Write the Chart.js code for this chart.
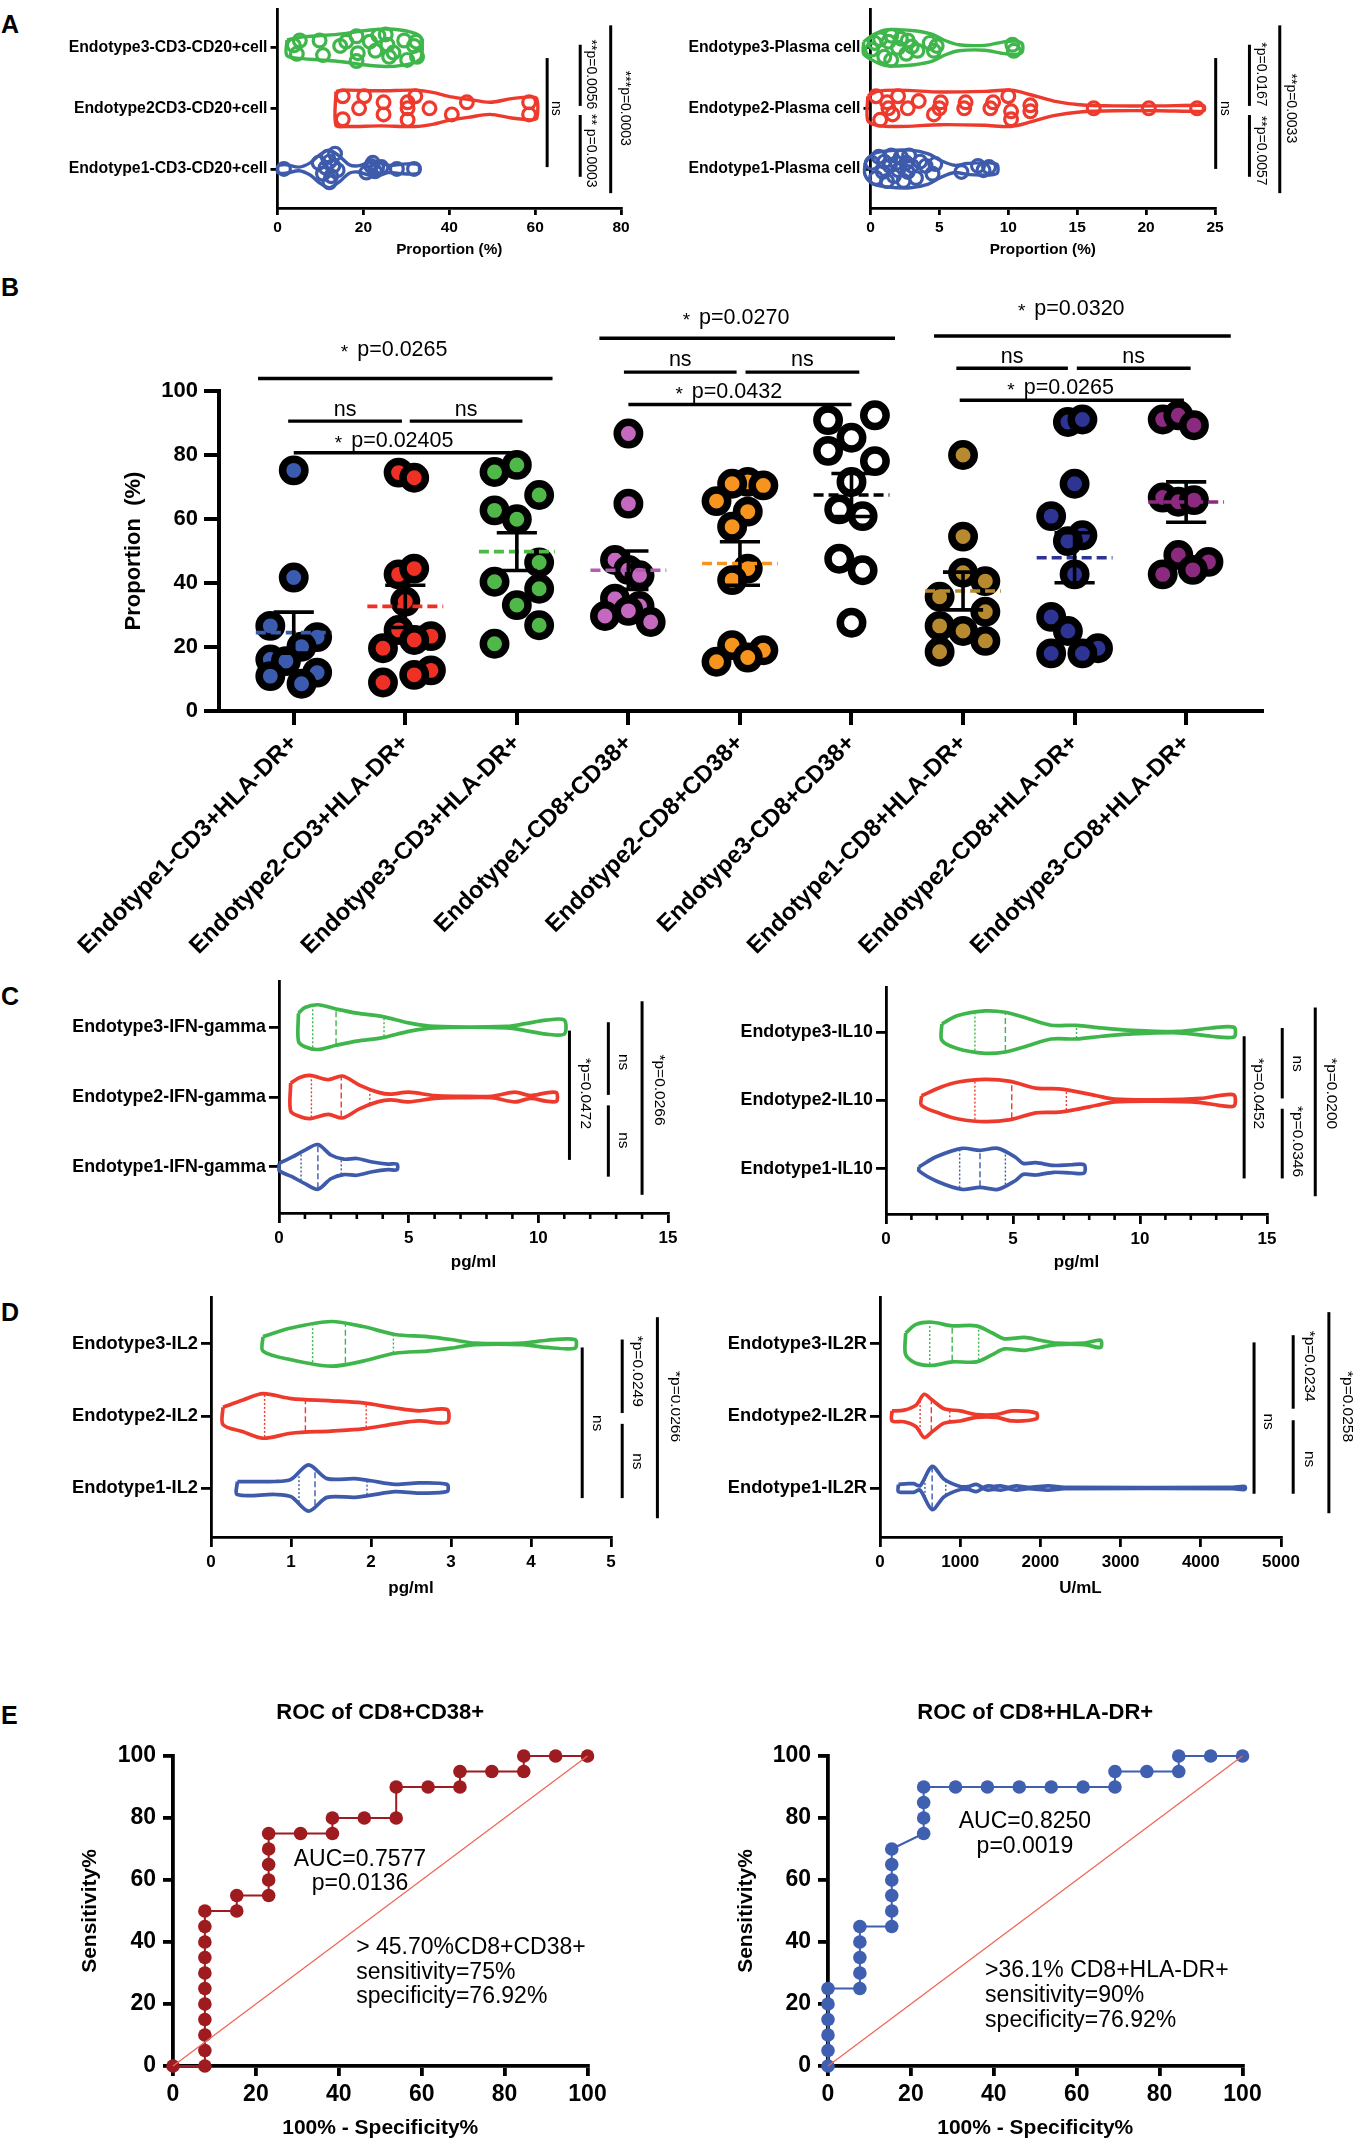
<!DOCTYPE html>
<html>
<head>
<meta charset="utf-8">
<title>Endotype panels</title>
<script src="https://cdn.jsdelivr.net/npm/chart.js@4.4.1/dist/chart.umd.min.js"></script>
<style>
  body { margin: 0; background: #fff; }
  #page { position: relative; width: 1362px; height: 2147px; overflow: hidden; background: #fff;
          font-family: 'Liberation Sans', Arial, Helvetica, sans-serif; }
  #page canvas { position: absolute; }
  .tag { position: absolute; font-size: 25px; line-height: 25px; font-weight: bold; }
</style>
</head>
<body>
<div id="page">
  <div class="tag" style="left:1px;top:12px">A</div>
  <div class="tag" style="left:1px;top:275px">B</div>
  <div class="tag" style="left:1px;top:984px">C</div>
  <div class="tag" style="left:1px;top:1300px">D</div>
  <div class="tag" style="left:1px;top:1703px">E</div>
  <canvas id="cA1"></canvas><canvas id="cA2"></canvas>
  <canvas id="cB"></canvas>
  <canvas id="cC1"></canvas><canvas id="cC2"></canvas>
  <canvas id="cD1"></canvas><canvas id="cD2"></canvas>
  <canvas id="cE1"></canvas><canvas id="cE2"></canvas>
</div>
<script>
// ---------------- A: CD3-CD20+ cells ----------------
const cd20Labels = ['Endotype1-CD3-CD20+cell', 'Endotype2CD3-CD20+cell', 'Endotype3-CD3-CD20+cell'];
const cd20E1 = [1.5, 9.6, 10.6, 11.2, 11.7, 12.1, 12.1, 12.5, 13.0, 13.4, 14.0, 20.7, 21.8, 22.2, 22.7, 23.2, 24.2, 27.8, 31.8];
const cd20E1Jit = [0, 0.1, -0.08, 0.02, 0.2, -0.22, 0.12, -0.12, 0.05, 0.25, -0.02, -0.06, 0.05, 0.1, -0.04, 0.02, 0.03, 0, 0];
const cd20E2 = [15.2, 15.2, 20.2, 19.0, 24.7, 24.7, 30.3, 30.3, 30.3, 32.1, 35.4, 40.6, 44.1, 58.6, 58.6];
const cd20E2Jit = [0.2, -0.18, 0.2, 0, 0.1, -0.1, 0, -0.19, 0.1, 0.2, 0, -0.1, 0.1, 0.1, -0.1];
const cd20E3 = [3.8, 4.5, 5.2, 9.8, 10.6, 14.6, 16.0, 18.4, 18.7, 18.4, 21.5, 22.8, 23.5, 25.2, 25.6, 26.0, 27.0, 29.5, 30.2, 31.8, 32.3, 32.5];
const cd20E3Jit = [0.04, -0.1, 0.12, 0.12, -0.12, 0.03, 0.1, 0.19, -0.09, -0.22, 0.1, -0.05, 0.2, 0.22, 0.05, -0.15, -0.08, 0.12, -0.2, 0.03, 0.1, -0.15];
// violin outlines: position along the value axis and half width (in category units)
const cd20E1ShapeX = [0, 2, 5, 7.6, 9.6, 12.1, 14.6, 16.7, 18.7, 21.2, 23.2, 25.8, 29.3, 32.8];
const cd20E1ShapeW = [0.06, 0.07, 0.03, 0.1, 0.22, 0.31, 0.2, 0.07, 0.05, 0.1, 0.12, 0.06, 0.08, 0.07];
const cd20E2ShapeX = [13.6, 16, 24, 32, 36.4, 40.4, 44.4, 49.5, 54.5, 59, 60.4];
const cd20E2ShapeW = [0.28, 0.3, 0.29, 0.3, 0.26, 0.19, 0.15, 0.1, 0.16, 0.19, 0.16];
const cd20E3ShapeX = [2.2, 6, 10, 15, 20, 25, 29, 32.3, 33.5];
const cd20E3ShapeW = [0.13, 0.18, 0.2, 0.23, 0.28, 0.31, 0.29, 0.23, 0.15];

// ---------------- A: plasma cells ----------------
const plasLabels = ['Endotype1-Plasma cell', 'Endotype2-Plasma cell', 'Endotype3-Plasma cell'];
const plasE1 = [0.1, 0.4, 0.6, 0.9, 1.0, 1.2, 1.4, 1.5, 1.7, 1.9, 2.0, 2.2, 2.4, 2.6, 2.7, 2.8, 3.0, 3.3, 3.6, 4.0, 4.5, 4.7, 6.6, 7.8, 8.2, 8.6];
const plasE1Jit = [0.1, -0.15, 0.2, -0.05, 0.12, -0.2, 0.05, 0.22, -0.12, 0.1, -0.02, 0.2, -0.2, 0.1, -0.05, 0.22, 0.05, -0.15, 0.12, 0.05, -0.08, 0.08, -0.05, 0.05, -0.02, 0.03];
const plasE2 = [0.4, 0.7, 1.2, 1.3, 1.6, 2.0, 2.7, 3.5, 4.6, 5.0, 5.1, 6.8, 6.9, 8.7, 8.9, 10.0, 10.2, 10.2, 11.6, 11.6, 16.2, 20.2, 23.7];
const plasE2Jit = [0.2, -0.19, 0.1, 0, -0.1, 0.2, 0, 0.12, -0.1, 0, 0.1, 0, 0.1, 0, 0.1, 0.2, -0.05, -0.18, 0.05, -0.05, 0, 0, 0];
const plasE3 = [0.1, 0.3, 0.7, 1.0, 1.3, 1.5, 1.5, 2.0, 2.2, 2.6, 2.7, 3.0, 3.4, 4.3, 4.6, 4.8, 10.3, 10.4];
const plasE3Jit = [-0.03, 0.08, 0.14, -0.15, 0.1, 0.2, -0.2, 0, 0.15, -0.1, 0.12, 0.02, -0.05, 0.08, -0.05, 0.03, 0.05, -0.05];
const plasE1ShapeX = [-0.4, 0.2, 1.3, 2.9, 4.2, 5.1, 6.1, 7.0, 7.9, 8.7, 9.2];
const plasE1ShapeW = [0.1, 0.25, 0.3, 0.31, 0.25, 0.14, 0.06, 0.09, 0.1, 0.1, 0.07];
const plasE2ShapeX = [-0.2, 0.5, 2, 5.1, 8.3, 10.2, 11.7, 13.3, 15.2, 17.7, 20.9, 23.7, 24.2];
const plasE2ShapeW = [0.2, 0.28, 0.3, 0.27, 0.28, 0.3, 0.22, 0.12, 0.06, 0.04, 0.04, 0.05, 0.04];
const plasE3ShapeX = [-0.5, 0.1, 1.0, 2.0, 3.2, 4.5, 5.4, 6.4, 8.3, 9.5, 10.5, 11.0];
const plasE3ShapeW = [0.1, 0.2, 0.29, 0.3, 0.28, 0.22, 0.12, 0.05, 0.04, 0.09, 0.11, 0.07];

// ---------------- B: activated T cells (%) ----------------
const bLabels = ['Endotype1-CD3+HLA-DR+', 'Endotype2-CD3+HLA-DR+', 'Endotype3-CD3+HLA-DR+',
                 'Endotype1-CD8+CD38+', 'Endotype2-CD8+CD38+', 'Endotype3-CD8+CD38+',
                 'Endotype1-CD8+HLA-DR+', 'Endotype2-CD8+HLA-DR+', 'Endotype3-CD8+HLA-DR+'];
const bValues = [
  [75.2, 41.7, 26.6, 23.1, 20.1, 16.1, 15.6, 12.0, 10.9, 8.5],
  [74.5, 72.9, 42.7, 44.5, 34.2, 25.3, 23.4, 22.2, 19.6, 12.7, 11.3, 8.9],
  [74.7, 76.9, 67.5, 62.7, 59.9, 46.4, 40.4, 38.2, 33.1, 26.8, 21.0],
  [86.7, 64.8, 47.2, 44.1, 42.4, 35.1, 32.8, 31.3, 29.7, 27.8],
  [71.6, 71.0, 70.5, 65.6, 62.3, 57.6, 44.5, 40.9, 20.6, 19.0, 16.7, 15.4],
  [92.4, 90.9, 85.4, 81.3, 78.1, 71.6, 63.0, 60.9, 47.6, 44.0, 27.6],
  [80.0, 54.5, 43.2, 40.6, 35.7, 31.0, 26.6, 25.0, 21.9, 18.5],
  [90.3, 91.1, 71.0, 60.9, 54.9, 53.1, 42.7, 29.4, 25.0, 19.6, 18.0, 18.0],
  [91.1, 92.4, 89.3, 66.7, 65.4, 65.9, 48.75, 46.6, 42.7, 44.1]
];
const bJitter = [
  [0, 0, -0.21, 0.21, 0.07, -0.21, -0.07, 0.21, -0.21, 0.07],
  [-0.06, 0.08, -0.06, 0.08, 0, -0.06, 0.23, 0.08, -0.2, 0.23, 0.08, -0.2],
  [-0.2, 0, 0.2, -0.2, 0, 0.2, -0.2, 0.2, 0, 0.2, -0.2],
  [0, 0, -0.12, 0, 0.1, -0.12, 0.1, 0, -0.21, 0.2],
  [0.07, -0.07, 0.21, -0.21, 0.07, -0.07, 0.07, -0.07, -0.07, 0.21, 0.07, -0.21],
  [0.21, -0.21, 0, -0.21, 0.21, 0, -0.11, 0.1, -0.11, 0.1, 0],
  [0, 0, 0, 0.2, -0.21, 0.2, -0.21, 0, 0.2, -0.21],
  [-0.06, 0.07, 0, -0.21, 0.07, -0.06, 0, -0.21, -0.06, 0.21, -0.21, 0.07],
  [-0.21, -0.07, 0.07, -0.21, -0.07, 0.07, -0.07, 0.2, -0.21, 0.06]
];
const bMean = [24.5, 32.7, 49.8, 44.0, 46.1, 67.5, 37.5, 47.9, 65.3];
const bSem = [6.4, 6.6, 5.9, 6.0, 6.8, 6.7, 5.9, 7.8, 6.3];
const bTicks = [0, 20, 40, 60, 80, 100];

// ---------------- C: IFN-gamma and IL10 (pg/ml) ----------------
const ifnLabels = ['Endotype1-IFN-gamma', 'Endotype2-IFN-gamma', 'Endotype3-IFN-gamma'];
const ifnE1ShapeX = [0, 0.5, 1.0, 1.5, 2.0, 2.5, 3.0, 3.6, 4.2, 4.55];
const ifnE1ShapeW = [0.05, 0.14, 0.24, 0.32, 0.17, 0.11, 0.12, 0.07, 0.04, 0.04];
const ifnE2ShapeX = [0.45, 0.8, 1.2, 1.9, 2.45, 3.1, 3.8, 4.3, 5.0, 6.0, 7.0, 8.2, 9.1, 9.7, 10.3, 10.7];
const ifnE2ShapeW = [0.2, 0.28, 0.31, 0.25, 0.3, 0.17, 0.07, 0.04, 0.07, 0.02, 0.01, 0.01, 0.07, 0.02, 0.06, 0.06];
const ifnE3ShapeX = [0.75, 1.0, 1.5, 2.2, 3.0, 4.0, 5.0, 6.0, 8.8, 9.5, 10.3, 11.0];
const ifnE3ShapeW = [0.2, 0.28, 0.32, 0.26, 0.2, 0.15, 0.06, 0.01, 0.01, 0.05, 0.1, 0.1];
const ifnQuart = [[0.85, 1.5, 2.4], [1.25, 2.4, 3.5], [1.3, 2.2, 4.05]];

const il10Labels = ['Endotype1-IL10', 'Endotype2-IL10', 'Endotype3-IL10'];
const il10E1ShapeX = [1.3, 2.0, 3.0, 3.7, 4.4, 5.1, 5.4, 5.9, 6.6, 7.3, 7.8];
const il10E1ShapeW = [0.03, 0.18, 0.3, 0.27, 0.3, 0.17, 0.08, 0.09, 0.05, 0.06, 0.06];
const il10E2ShapeX = [1.4, 2.2, 2.85, 3.9, 4.9, 5.9, 6.8, 7.5, 8.3, 9.0, 10.7, 12.4, 13.1, 13.7];
const il10E2ShapeW = [0.07, 0.2, 0.27, 0.31, 0.28, 0.18, 0.17, 0.13, 0.07, 0.02, 0.01, 0.03, 0.07, 0.08];
const il10E3ShapeX = [2.2, 2.8, 3.9, 4.7, 5.4, 6.5, 7.5, 8.5, 9.5, 11.5, 12.8, 13.7];
const il10E3ShapeW = [0.12, 0.24, 0.31, 0.29, 0.22, 0.1, 0.1, 0.06, 0.03, 0.01, 0.06, 0.07];
const il10Quart = [[2.9, 3.7, 4.7], [3.5, 4.95, 7.1], [3.5, 4.7, 7.5]];

// ---------------- D: IL2 (pg/ml) and IL2R (U/mL) ----------------
const il2Labels = ['Endotype1-IL2', 'Endotype2-IL2', 'Endotype3-IL2'];
const il2E1ShapeX = [0.33, 0.8, 1.0, 1.22, 1.45, 1.8, 2.0, 2.3, 2.6, 2.95];
const il2E1ShapeW = [0.09, 0.09, 0.12, 0.32, 0.13, 0.13, 0.1, 0.05, 0.07, 0.05];
const il2E2ShapeX = [0.15, 0.4, 0.65, 1.0, 1.5, 1.9, 2.3, 2.6, 2.95];
const il2E2ShapeW = [0.12, 0.22, 0.31, 0.24, 0.21, 0.18, 0.11, 0.07, 0.09];
const il2E3ShapeX = [0.65, 1.0, 1.5, 1.9, 2.3, 2.7, 3.0, 3.3, 3.9, 4.2, 4.55];
const il2E3ShapeW = [0.1, 0.22, 0.31, 0.24, 0.13, 0.1, 0.06, 0.01, 0.01, 0.05, 0.06];
const il2Quart = [[1.1, 1.3, 1.95], [0.67, 1.18, 1.94], [1.27, 1.68, 2.28]];

const il2rLabels = ['Endotype1-IL2R', 'Endotype2-IL2R', 'Endotype3-IL2R'];
const il2rE1ShapeX = [230, 350, 420, 500, 650, 800, 1000, 1100, 1200, 1280, 1350, 1420, 1500, 1600, 1700, 1850, 2100, 2300, 4400, 4550];
const il2rE1ShapeW = [0.05, 0.06, 0.06, 0.03, 0.3, 0.12, 0.02, 0.02, 0.05, 0.01, 0.03, 0.02, 0.03, 0.01, 0.03, 0.01, 0.03, 0.01, 0.01, 0.02];
const il2rE2ShapeX = [150, 300, 450, 550, 650, 800, 1000, 1200, 1450, 1650, 1950];
const il2rE2ShapeW = [0.07, 0.08, 0.15, 0.3, 0.22, 0.1, 0.07, 0.02, 0.02, 0.07, 0.04];
const il2rE3ShapeX = [320, 450, 650, 900, 1200, 1400, 1550, 1800, 2000, 2200, 2550, 2750];
const il2rE3ShapeW = [0.15, 0.27, 0.3, 0.25, 0.25, 0.15, 0.07, 0.09, 0.05, 0.01, 0.01, 0.05];
const il2rQuart = [[560, 650, 820], [500, 640, 870], [620, 900, 1230]];

// ---------------- E: ROC curves ----------------
const rocCd38Fpr = [0, 7.69, 7.69, 7.69, 7.69, 7.69, 7.69, 7.69, 7.69, 7.69, 7.69, 7.69, 15.38, 15.38,
  23.08, 23.08, 23.08, 23.08, 23.08, 30.77, 38.46, 38.46, 46.15, 53.85, 53.85, 61.54, 69.23, 69.23,
  76.92, 84.62, 84.62, 92.31, 100];
const rocCd38Tpr = [0, 0, 5, 10, 15, 20, 25, 30, 35, 40, 45, 50, 50, 55,
  55, 60, 65, 70, 75, 75, 75, 80, 80, 80, 90, 90, 90, 95,
  95, 95, 100, 100, 100];
const rocHlaFpr = [0, 0, 0, 0, 0, 0, 7.69, 7.69, 7.69, 7.69, 7.69, 15.38, 15.38, 15.38, 15.38, 15.38, 15.38,
  23.08, 23.08, 23.08, 23.08, 30.77, 38.46, 46.15, 53.85, 61.54, 69.23, 69.23, 76.92, 84.62, 84.62, 92.31, 100];
const rocHlaTpr = [0, 5, 10, 15, 20, 25, 25, 30, 35, 40, 45, 45, 50, 55, 60, 65, 70,
  75, 80, 85, 90, 90, 90, 90, 90, 90, 90, 95, 95, 95, 100, 100, 100];

// ================= drawing =================
const FONT = "'Liberation Sans', Arial, Helvetica, sans-serif";
Chart.defaults.font.family = FONT;
Chart.defaults.color = '#000';
Chart.defaults.animation = false;
Chart.defaults.events = [];
Chart.defaults.plugins.legend.display = false;
Chart.defaults.plugins.tooltip.enabled = false;

const GREEN = '#3fb64b', RED = '#ee3a2c', BLUE = '#3e5bab';

function place(id, box) {
  const cv = document.getElementById(id);
  cv.style.left = box[0] + 'px';
  cv.style.top = box[1] + 'px';
  cv.width = box[2];
  cv.height = box[3];
  cv.style.width = box[2] + 'px';
  cv.style.height = box[3] + 'px';
  return cv;
}

// fixed axis sizes so the plot areas land where they are in the figure
const fixW = w => s => { s.width = w; s.paddingTop = 0; s.paddingBottom = 0; };
const fixH = h => s => { s.height = h; s.paddingLeft = 0; s.paddingRight = 0; };

function outline(xs, ws, c) {
  const top = xs.map((x, i) => ({x: x, y: c + ws[i]}));
  const bot = xs.map((x, i) => ({x: x, y: c - ws[i]})).reverse();
  return top.concat(bot, [top[0]]);
}

function halfAt(xs, ws, q) {
  for (let i = 0; i < xs.length - 1; i++) {
    if (q >= xs[i] && q <= xs[i + 1]) {
      const t = (q - xs[i]) / (xs[i + 1] - xs[i]);
      return ws[i] + t * (ws[i + 1] - ws[i]);
    }
  }
  return 0;
}

function vBrackets(list, size) {
  return {
    id: 'vbr',
    afterDraw(chart) {
      const {ctx, scales: {x, y}} = chart;
      ctx.save();
      ctx.strokeStyle = '#000';
      ctx.fillStyle = '#000';
      ctx.lineWidth = 3;
      list.forEach(b => {
        const px = x.getPixelForValue(b.x);
        ctx.beginPath();
        ctx.moveTo(px, y.getPixelForValue(b.y1));
        ctx.lineTo(px, y.getPixelForValue(b.y2));
        ctx.stroke();
        ctx.save();
        ctx.translate(x.getPixelForValue(b.tx), y.getPixelForValue(b.ty));
        ctx.rotate(Math.PI / 2);
        ctx.font = size + 'px ' + FONT;
        ctx.textAlign = 'center';
        ctx.textBaseline = 'middle';
        ctx.fillText(b.t, 0, 0);
        ctx.restore();
      });
      ctx.restore();
    }
  };
}

function minorTicks(step, every, len) {
  return {
    id: 'minor',
    afterDraw(chart) {
      const {ctx, scales: {x}, chartArea} = chart;
      ctx.save();
      ctx.strokeStyle = '#000';
      ctx.lineWidth = 2.6;
      for (let v = x.min; v <= x.max + 1e-9; v += step) {
        if (Math.abs(v / every - Math.round(v / every)) < 1e-6) continue;
        const px = x.getPixelForValue(v);
        ctx.beginPath();
        ctx.moveTo(px, chartArea.bottom);
        ctx.lineTo(px, chartArea.bottom + len);
        ctx.stroke();
      }
      ctx.restore();
    }
  };
}

function violinPanel(o) {
  const cv = place(o.id, o.box);
  const [bx, by, bw, bh] = o.box;
  const [L, T, R, B] = o.area;
  const ds = [];
  o.groups.forEach((g, i) => {
    const c = i + 1;
    ds.push({data: outline(g.sx, g.sw, c), showLine: true, borderColor: g.color, borderWidth: o.lw,
             borderJoinStyle: 'round', tension: 0.3, pointRadius: 0, clip: false, order: 2});
    (g.q || []).forEach((q, k) => {
      const h = Math.max(halfAt(g.sx, g.sw, q) - 0.015, 0.01);
      ds.push({data: [{x: q, y: c - h}, {x: q, y: c + h}], showLine: true, borderColor: g.color,
               borderWidth: 1.4, borderDash: k === 1 ? [6, 3] : [2, 2], pointRadius: 0, order: 1});
    });
    if (g.pts) {
      ds.push({data: g.pts.map((v, k) => ({x: v, y: c + g.jit[k]})), pointRadius: 6.4,
               pointBorderWidth: 3.2, pointBorderColor: g.color, pointBackgroundColor: 'rgba(255,255,255,0)',
               clip: false, order: 0});
    }
  });
  const plugins = [vBrackets(o.brackets, o.bFont)];
  if (o.minor) plugins.push(minorTicks(o.minor, o.xStep, 6));
  new Chart(cv, {
    type: 'scatter',
    data: {datasets: ds},
    options: {
      responsive: false,
      layout: {padding: {left: 0, top: T - by, right: bx + bw - R, bottom: 0}},
      scales: {
        x: {
          min: o.xMin, max: o.xMax, afterFit: fixH(by + bh - B),
          border: {color: '#000', width: o.aw},
          grid: {drawOnChartArea: false, color: '#000', lineWidth: o.aw, tickLength: o.tl},
          ticks: {stepSize: o.xStep, padding: o.tp, font: {size: o.tf, weight: 'bold'}, callback: v => String(v)},
          title: {display: true, text: o.xTitle, font: {size: o.titleF, weight: 'bold'},
                  padding: {top: 0, bottom: (by + bh) - o.titleY - o.titleF * 0.6}}
        },
        y: {
          min: o.yMin, max: o.yMax, afterFit: fixW(L - bx),
          afterBuildTicks: ax => { ax.ticks = o.labels.map((_, i) => ({value: i + 1})); },
          border: {color: '#000', width: o.aw},
          grid: {drawOnChartArea: false, color: '#000', lineWidth: o.aw, tickLength: o.tl},
          ticks: {padding: 3, font: {size: o.lf, weight: 'bold'}, callback: v => o.labels[Math.round(v) - 1]}
        }
      }
    },
    plugins: plugins
  });
}

// ---------- A ----------
violinPanel({
  id: 'cA1', box: [0, 0, 680, 270], area: [277.5, 5, 621, 208],
  xMin: 0, xMax: 80, xStep: 20, yMin: 0.355, yMax: 3.63, xTitle: 'Proportion (%)', titleY: 250,
  labels: cd20Labels, lw: 3.4, aw: 2.8, tl: 7, tp: 3, tf: 15.5, lf: 15.8, titleF: 15.3, bFont: 14,
  groups: [
    {color: BLUE, sx: cd20E1ShapeX, sw: cd20E1ShapeW, pts: cd20E1, jit: cd20E1Jit},
    {color: RED, sx: cd20E2ShapeX, sw: cd20E2ShapeW, pts: cd20E2, jit: cd20E2Jit},
    {color: GREEN, sx: cd20E3ShapeX, sw: cd20E3ShapeW, pts: cd20E3, jit: cd20E3Jit}
  ],
  brackets: [
    {x: 62.8, y1: 2.83, y2: 1.03, t: 'ns', tx: 64.9, ty: 2.0},
    {x: 70.5, y1: 3.05, y2: 2.04, t: '**p=0.0056', tx: 72.9, ty: 2.56},
    {x: 70.5, y1: 1.89, y2: 0.87, t: '** p=0.0003', tx: 72.9, ty: 1.3},
    {x: 77.6, y1: 3.37, y2: 0.6, t: '***p=0.0003', tx: 80.8, ty: 2.0}
  ]
});
violinPanel({
  id: 'cA2', box: [680, 0, 682, 270], area: [870.5, 5, 1215, 208],
  xMin: 0, xMax: 25, xStep: 5, yMin: 0.355, yMax: 3.63, xTitle: 'Proportion (%)', titleY: 250,
  labels: plasLabels, lw: 3.4, aw: 2.8, tl: 7, tp: 3, tf: 15.5, lf: 15.8, titleF: 15.3, bFont: 14,
  groups: [
    {color: BLUE, sx: plasE1ShapeX, sw: plasE1ShapeW, pts: plasE1, jit: plasE1Jit},
    {color: RED, sx: plasE2ShapeX, sw: plasE2ShapeW, pts: plasE2, jit: plasE2Jit},
    {color: GREEN, sx: plasE3ShapeX, sw: plasE3ShapeW, pts: plasE3, jit: plasE3Jit}
  ],
  brackets: [
    {x: 25.05, y1: 2.83, y2: 1.0, t: 'ns', tx: 25.7, ty: 2.0},
    {x: 27.5, y1: 3.05, y2: 2.04, t: '*p=0.0167', tx: 28.3, ty: 2.56},
    {x: 27.5, y1: 1.89, y2: 0.87, t: '**p=0.0057', tx: 28.3, ty: 1.3},
    {x: 29.7, y1: 3.37, y2: 0.6, t: '**p=0.0033', tx: 30.5, ty: 2.0}
  ]
});

// ---------- C ----------
const cStyle = {lw: 3.7, aw: 2.8, tl: 10, tp: 5, tf: 17, lf: 17.8, titleF: 17, bFont: 15.5, minor: 1};
violinPanel(Object.assign({
  id: 'cC1', box: [0, 950, 680, 330], area: [279, 981, 668, 1213],
  xMin: 0, xMax: 15, xStep: 5, yMin: 0.34, yMax: 3.66, xTitle: 'pg/ml', titleY: 1262, labels: ifnLabels,
  groups: [
    {color: BLUE, sx: ifnE1ShapeX, sw: ifnE1ShapeW, q: ifnQuart[0]},
    {color: RED, sx: ifnE2ShapeX, sw: ifnE2ShapeW, q: ifnQuart[1]},
    {color: GREEN, sx: ifnE3ShapeX, sw: ifnE3ShapeW, q: ifnQuart[2]}
  ],
  brackets: [
    {x: 11.2, y1: 2.95, y2: 1.1, t: '*p=0.0472', tx: 11.8, ty: 2.05},
    {x: 12.7, y1: 3.07, y2: 2.03, t: 'ns', tx: 13.27, ty: 2.5},
    {x: 12.7, y1: 1.88, y2: 0.86, t: 'ns', tx: 13.27, ty: 1.38},
    {x: 14.0, y1: 3.37, y2: 0.6, t: '*p=0.0266', tx: 14.66, ty: 2.1}
  ]
}, cStyle));
violinPanel(Object.assign({
  id: 'cC2', box: [680, 950, 682, 330], area: [886, 987, 1267, 1214],
  xMin: 0, xMax: 15, xStep: 5, yMin: 0.34, yMax: 3.66, xTitle: 'pg/ml', titleY: 1262, labels: il10Labels,
  groups: [
    {color: BLUE, sx: il10E1ShapeX, sw: il10E1ShapeW, q: il10Quart[0]},
    {color: RED, sx: il10E2ShapeX, sw: il10E2ShapeW, q: il10Quart[1]},
    {color: GREEN, sx: il10E3ShapeX, sw: il10E3ShapeW, q: il10Quart[2]}
  ],
  brackets: [
    {x: 14.1, y1: 2.94, y2: 0.86, t: '*p=0.0452', tx: 14.65, ty: 2.1},
    {x: 15.6, y1: 3.06, y2: 2.03, t: 'ns', tx: 16.2, ty: 2.54},
    {x: 15.6, y1: 1.88, y2: 0.86, t: '*p=0.0346', tx: 16.2, ty: 1.4},
    {x: 16.9, y1: 3.36, y2: 0.6, t: '*p=0.0200', tx: 17.55, ty: 2.1}
  ]
}, cStyle));

// ---------- D ----------
const dStyle = {lw: 3.7, aw: 2.8, tl: 10, tp: 5, tf: 17, lf: 18.3, titleF: 17, bFont: 15.5};
violinPanel(Object.assign({
  id: 'cD1', box: [0, 1280, 680, 330], area: [211, 1297, 611, 1537],
  xMin: 0, xMax: 5, xStep: 1, yMin: 0.32, yMax: 3.65, xTitle: 'pg/ml', titleY: 1588, labels: il2Labels,
  groups: [
    {color: BLUE, sx: il2E1ShapeX, sw: il2E1ShapeW, q: il2Quart[0]},
    {color: RED, sx: il2E2ShapeX, sw: il2E2ShapeW, q: il2Quart[1]},
    {color: GREEN, sx: il2E3ShapeX, sw: il2E3ShapeW, q: il2Quart[2]}
  ],
  brackets: [
    {x: 4.64, y1: 2.95, y2: 0.86, t: 'ns', tx: 4.83, ty: 1.9},
    {x: 5.14, y1: 3.06, y2: 2.04, t: '*p=0.0249', tx: 5.33, ty: 2.62},
    {x: 5.14, y1: 1.89, y2: 0.86, t: 'ns', tx: 5.33, ty: 1.37},
    {x: 5.58, y1: 3.37, y2: 0.58, t: '*p=0.0266', tx: 5.8, ty: 2.13}
  ]
}, dStyle));
violinPanel(Object.assign({
  id: 'cD2', box: [680, 1280, 682, 330], area: [880, 1297, 1281, 1537],
  xMin: 0, xMax: 5000, xStep: 1000, yMin: 0.32, yMax: 3.65, xTitle: 'U/mL', titleY: 1588, labels: il2rLabels,
  groups: [
    {color: BLUE, sx: il2rE1ShapeX, sw: il2rE1ShapeW, q: il2rQuart[0]},
    {color: RED, sx: il2rE2ShapeX, sw: il2rE2ShapeW, q: il2rQuart[1]},
    {color: GREEN, sx: il2rE3ShapeX, sw: il2rE3ShapeW, q: il2rQuart[2]}
  ],
  brackets: [
    {x: 4664, y1: 3.02, y2: 0.92, t: 'ns', tx: 4837, ty: 1.92},
    {x: 5152, y1: 3.12, y2: 2.1, t: '*p=0.0234', tx: 5358, ty: 2.69},
    {x: 5152, y1: 1.94, y2: 0.92, t: 'ns', tx: 5358, ty: 1.4},
    {x: 5597, y1: 3.44, y2: 0.65, t: '*p=0.0258', tx: 5830, ty: 2.13}
  ]
}, dStyle));

// ---------- B ----------
const bFill = ['#3b5cae', '#ee3124', '#50b848', '#c468c0', '#f7941d', '#ffffff', '#b88a30', '#2e3494', '#8c2a80'];
const bLine = ['#3b5cae', '#ee3124', '#50b848', '#b35bb5', '#f7941d', '#000000', '#b88a30', '#2e3494', '#8c2a80'];
const bBrackets = [
  {x1: 0.68, x2: 3.32, y: 103.9, ty: 110.9, t: 'p=0.0265', star: true},
  {x1: 0.95, x2: 1.97, y: 90.6, ty: 92.2, t: 'ns'},
  {x1: 2.04, x2: 3.05, y: 90.6, ty: 92.2, t: 'ns'},
  {x1: 1.0, x2: 3.0, y: 80.7, ty: 82.6, t: 'p=0.02405', star: true},
  {x1: 3.74, x2: 6.39, y: 116.5, ty: 120.8, t: 'p=0.0270', star: true},
  {x1: 3.96, x2: 4.97, y: 105.9, ty: 107.7, t: 'ns'},
  {x1: 5.05, x2: 6.07, y: 105.9, ty: 107.7, t: 'ns'},
  {x1: 4.0, x2: 6.0, y: 95.8, ty: 97.9, t: 'p=0.0432', star: true},
  {x1: 6.74, x2: 9.4, y: 117.2, ty: 123.6, t: 'p=0.0320', star: true},
  {x1: 6.94, x2: 7.94, y: 107.1, ty: 108.8, t: 'ns'},
  {x1: 8.02, x2: 9.04, y: 107.1, ty: 108.8, t: 'ns'},
  {x1: 6.97, x2: 8.98, y: 97.1, ty: 99.2, t: 'p=0.0265', star: true}
];
const hBracketPlugin = {
  id: 'hbr',
  afterDraw(chart) {
    const {ctx, scales: {x, y}} = chart;
    ctx.save();
    ctx.strokeStyle = '#000';
    ctx.fillStyle = '#000';
    ctx.lineWidth = 3.4;
    ctx.textBaseline = 'alphabetic';
    bBrackets.forEach(b => {
      const py = y.getPixelForValue(b.y);
      ctx.beginPath();
      ctx.moveTo(x.getPixelForValue(b.x1), py);
      ctx.lineTo(x.getPixelForValue(b.x2), py);
      ctx.stroke();
      const mid = (b.x1 + b.x2) / 2 - (b.star ? 0.1 : 0);
      const cx = x.getPixelForValue(mid), ty = y.getPixelForValue(b.ty);
      ctx.font = '21.5px ' + FONT;
      const w = ctx.measureText(b.t).width;
      if (b.star) {
        ctx.font = '19px ' + FONT;
        const sw = ctx.measureText('*').width, gap = 9;
        const left = cx - (sw + gap + w) / 2;
        ctx.textAlign = 'left';
        ctx.fillText('*', left, ty + 2);
        ctx.font = '21.5px ' + FONT;
        ctx.fillText(b.t, left + sw + gap, ty);
      } else {
        ctx.textAlign = 'center';
        ctx.fillText(b.t, cx, ty);
      }
    });
    ctx.restore();
  }
};
(function () {
  const box = [0, 260, 1362, 700], area = [219, 391, 1262, 711];
  const cv = place('cB', box);
  const ds = [];
  bLabels.forEach((lab, i) => {
    const c = i + 1;
    ds.push({data: bValues[i].map((v, k) => ({x: c + bJitter[i][k], y: v})), pointRadius: 11.2,
             pointBorderWidth: 7.5, pointBorderColor: '#000', pointBackgroundColor: bFill[i], clip: false, order: 3});
    ds.push({data: [{x: c - 0.34, y: bMean[i]}, {x: c + 0.34, y: bMean[i]}], showLine: true,
             borderColor: bLine[i], borderWidth: 3.6, borderDash: [10, 5], pointRadius: 0, order: 2});
    const top = bMean[i] + bSem[i], bot = bMean[i] - bSem[i];
    [[{x: c, y: bot}, {x: c, y: top}],
     [{x: c - 0.18, y: top}, {x: c + 0.18, y: top}],
     [{x: c - 0.18, y: bot}, {x: c + 0.18, y: bot}]].forEach(d => {
      ds.push({data: d, showLine: true, borderColor: '#000', borderWidth: 3.6, pointRadius: 0, order: 1});
    });
  });
  new Chart(cv, {
    type: 'scatter',
    data: {datasets: ds},
    options: {
      responsive: false,
      layout: {padding: {left: 0, top: area[1] - box[1], right: box[0] + box[2] - area[2], bottom: 0}},
      scales: {
        x: {
          min: 0.33, max: 9.68, afterFit: fixH(box[1] + box[3] - area[3]),
          afterBuildTicks: ax => { ax.ticks = bLabels.map((_, i) => ({value: i + 1})); },
          border: {color: '#000', width: 4},
          grid: {drawOnChartArea: false, color: '#000', lineWidth: 4, tickLength: 14},
          ticks: {autoSkip: false, minRotation: 45, maxRotation: 45, padding: 4,
                  font: {size: 24, weight: 'bold'}, callback: v => bLabels[Math.round(v) - 1]}
        },
        y: {
          min: 0, max: 100, afterFit: fixW(area[0] - box[0]),
          afterBuildTicks: ax => { ax.ticks = bTicks.map(v => ({value: v})); },
          border: {color: '#000', width: 4},
          grid: {drawOnChartArea: false, color: '#000', lineWidth: 4, tickLength: 15},
          ticks: {padding: 6, font: {size: 22, weight: 'bold'}, callback: v => String(v)},
          title: {display: true, text: 'Proportion  (%)', font: {size: 22, weight: 'bold'},
                  padding: {top: 134 - 13.2, bottom: 0}}
        }
      }
    },
    plugins: [hBracketPlugin]
  });
})();

// ---------- E ----------
function rocPanel(o) {
  const cv = place(o.id, o.box);
  const [bx, by, bw, bh] = o.box;
  const [L, T, R, B] = o.area;
  const textPlugin = {
    id: 'roctext',
    afterDraw(chart) {
      const {ctx, scales: {x, y}, chartArea} = chart;
      ctx.save();
      ctx.fillStyle = '#000';
      ctx.textBaseline = 'middle';
      ctx.textAlign = 'center';
      ctx.font = 'bold 22px ' + FONT;
      ctx.fillText(o.title, (chartArea.left + chartArea.right) / 2, chartArea.top - 43);
      ctx.font = '23px ' + FONT;
      o.notes.forEach(n => {
        ctx.textAlign = n.align;
        ctx.fillText(n.t, x.getPixelForValue(n.x), y.getPixelForValue(n.y));
      });
      ctx.restore();
    }
  };
  const axis = {
    min: 0, max: 100,
    border: {color: '#000', width: 3.8},
    grid: {drawOnChartArea: false, color: '#000', lineWidth: 3.8, tickLength: 10},
    ticks: {stepSize: 20, font: {size: 23, weight: 'bold'}, callback: v => String(v)}
  };
  new Chart(cv, {
    type: 'scatter',
    data: {datasets: [
      {data: [{x: 0, y: 0}, {x: 100, y: 100}], showLine: true, borderColor: '#f0675a', borderWidth: 1.3,
       pointRadius: 0, clip: false, order: 0},
      {data: o.fpr.map((v, i) => ({x: v, y: o.tpr[i]})), showLine: true, borderColor: o.color, borderWidth: 2,
       pointRadius: 6.8, pointBackgroundColor: o.color, pointBorderWidth: 0, clip: false, order: 1}
    ]},
    options: {
      responsive: false,
      layout: {padding: {left: 0, top: T - by, right: bx + bw - R, bottom: 0}},
      scales: {
        x: Object.assign({}, axis, {
          afterFit: fixH(by + bh - B),
          ticks: Object.assign({}, axis.ticks, {padding: 5}),
          title: {display: true, text: '100% - Specificity%', font: {size: 21, weight: 'bold'},
                  padding: {top: 0, bottom: (by + bh) - 2128 - 12.6}}
        }),
        y: Object.assign({}, axis, {
          afterFit: fixW(L - bx),
          ticks: Object.assign({}, axis.ticks, {padding: 7}),
          title: {display: true, text: 'Sensitivity%', font: {size: 21, weight: 'bold'},
                  padding: {top: o.yTitleX - bx - 12.6, bottom: 0}}
        })
      }
    },
    plugins: [textPlugin]
  });
}
rocPanel({
  id: 'cE1', box: [0, 1680, 690, 467], area: [173, 1756, 587.5, 2066], yTitleX: 90,
  title: 'ROC of CD8+CD38+', color: '#9e1b20', fpr: rocCd38Fpr, tpr: rocCd38Tpr,
  notes: [
    {x: 45.1, y: 66.6, t: 'AUC=0.7577', align: 'center'},
    {x: 45.1, y: 58.9, t: 'p=0.0136', align: 'center'},
    {x: 44.2, y: 38.2, t: '> 45.70%CD8+CD38+', align: 'left'},
    {x: 44.2, y: 30.1, t: 'sensitivity=75%', align: 'left'},
    {x: 44.2, y: 22.3, t: 'specificity=76.92%', align: 'left'}
  ]
});
rocPanel({
  id: 'cE2', box: [690, 1680, 672, 467], area: [828, 1756, 1242.5, 2066], yTitleX: 746,
  title: 'ROC of CD8+HLA-DR+', color: '#3f5fb1', fpr: rocHlaFpr, tpr: rocHlaTpr,
  notes: [
    {x: 47.5, y: 78.7, t: 'AUC=0.8250', align: 'center'},
    {x: 47.5, y: 70.7, t: 'p=0.0019', align: 'center'},
    {x: 37.9, y: 30.7, t: '>36.1% CD8+HLA-DR+', align: 'left'},
    {x: 37.9, y: 22.6, t: 'sensitivity=90%', align: 'left'},
    {x: 37.9, y: 14.7, t: 'specificity=76.92%', align: 'left'}
  ]
});
</script>
</body>
</html>
